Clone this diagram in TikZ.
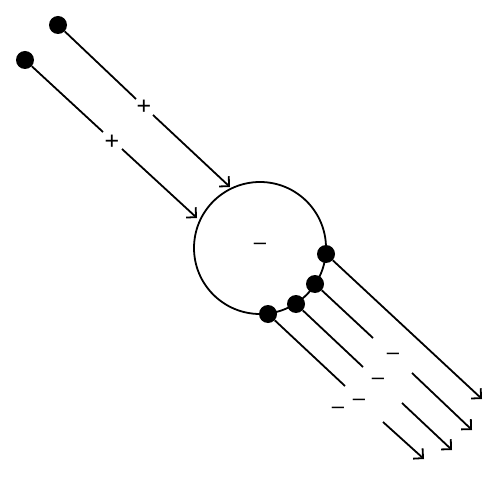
\documentclass[tikz,border=0pt]{standalone}
\usepackage{fontspec}
\setmainfont{Liberation Sans}
\usetikzlibrary{arrows.meta}
\begin{document}
\begin{tikzpicture}[x=1pt,y=-1pt,
  dot/.style={circle,fill=black,inner sep=0pt,minimum size=18pt},
  ln/.style={line width=1.8pt,draw=black},
  arr/.style={ln,-{Straight Barb[length=7pt,width=14pt,line width=1.8pt]}},
  plus/.style={inner sep=0pt,font=\fontsize{25}{25}\selectfont},
  minus/.style={inner sep=0pt,font=\fontsize{22}{22}\selectfont},
  ring/.style={circle,draw=black,line width=1.8pt,inner sep=0pt,minimum size=132pt}]
\useasboundingbox[fill=white] (0,0) rectangle (500,478);
% circle
\node[ring] (c) at (260,248) {};
\node[minus] (mc) at (260,246) {–};
% incoming
\node[dot] (a) at (58,25) {};
\node[dot] (b) at (25,60) {};
\coordinate (ga1) at (136,99);
\coordinate (ga2) at (153,115);
\coordinate (ta) at (230,187);
\coordinate (gb1) at (103,132);
\coordinate (gb2) at (122,149);
\coordinate (tb) at (197,218);
\draw[ln] (a) -- (ga1);
\draw[arr] (ga2) -- (ta);
\draw[ln] (b) -- (gb1);
\draw[arr] (gb2) -- (tb);
\node[plus] (pa) at (144,107) {+};
\node[plus] (pb) at (112,142) {+};
% outgoing
\coordinate (t1) at (482,399);
\coordinate (g2a) at (373,338);
\coordinate (g2b) at (412,373);
\coordinate (t2) at (472,430);
\coordinate (g3a) at (363,367);
\coordinate (g3b) at (402,403);
\coordinate (t3) at (452,450);
\coordinate (g4a) at (345,386);
\coordinate (g4b) at (383,422);
\coordinate (t4) at (424,459);
\node[dot] (d1) at (326,254) {};
\node[dot] (d2) at (315,284) {};
\node[dot] (d3) at (296,304) {};
\node[dot] (d4) at (268,314) {};
\draw[arr] (d1) -- (t1);
\draw[ln] (d2) -- (g2a);
\draw[arr] (g2b) -- (t2);
\draw[ln] (d3) -- (g3a);
\draw[arr] (g3b) -- (t3);
\draw[ln] (d4) -- (g4a);
\draw[arr] (g4b) -- (t4);
\node[minus] (m2) at (393,356) {–};
\node[minus] (m3) at (378,381) {–};
\node[minus] (m4) at (359,402) {–};
\node[minus] (m5) at (338,410) {–};
\end{tikzpicture}
\end{document}
